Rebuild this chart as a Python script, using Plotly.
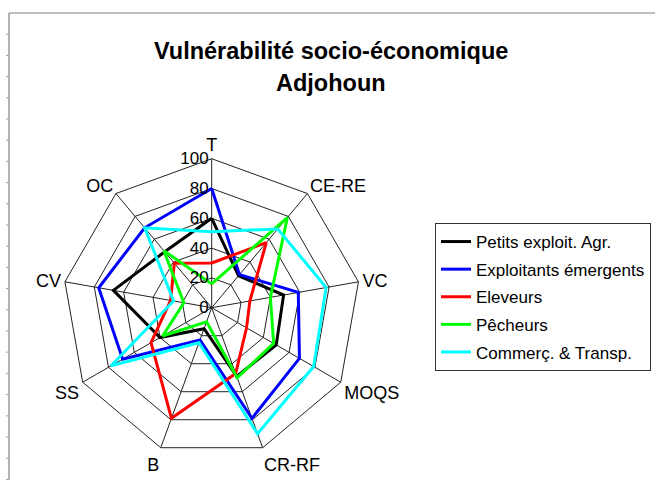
import plotly.graph_objects as go

categories = ["T", "CE-RE", "VC", "MOQS", "CR-RF", "B", "SS", "CV", "OC"]
radial_ticks = [0, 20, 40, 60, 80, 100]

series_names = ["Petits exploit. Agr.", "Exploitants émergents", "Eleveurs",
                "Pêcheurs", "Commerç. & Transp."]
petits = [60, 28, 49, 50, 49, 15, 40, 67, 49]
exploitants = [80, 29, 59, 68, 79, 23, 69, 77, 70]
eleveurs = [30, 57, 26, 27, 47, 79, 47, 28, 39]
pecheurs = [16, 79, 40, 48, 50, 10, 38, 19, 50]
commerce = [51, 69, 78, 79, 90, 25, 78, 26, 70]
colors = ["#000000", "#0000FF", "#FF0000", "#00FF00", "#00FFFF"]
title_lines = ["Vulnérabilité socio-économique", "Adjohoun"]

W, H = 655, 480
FONT = "Liberation Sans, Arial, sans-serif"

fig = go.Figure()
for i, (name, vals) in enumerate(zip(series_names,
                                      [petits, exploitants, eleveurs, pecheurs, commerce])):
    fig.add_trace(go.Scatterpolar(
        r=vals + vals[:1],
        theta=categories + categories[:1],
        mode="lines",
        name=name,
        legendgroup=str(i),
        line=dict(color=colors[i], width=3),
    ))

# polar domain in pixels
cx, cy, R = 211.7, 307.7, 149.0
dom_x = [(cx - R) / W, (cx + R) / W]
dom_y = [1 - (cy + R) / H, 1 - (cy - R) / H]

# Chart-area frame (left and top border) with small ruler ticks
shapes = [
    dict(type="line", xref="paper", yref="paper", x0=9 / W, x1=9 / W, y0=0, y1=1 - 13 / H,
         line=dict(color="#808080", width=1.2)),
    dict(type="line", xref="paper", yref="paper", x0=9 / W, x1=1, y0=1 - 13 / H, y1=1 - 13 / H,
         line=dict(color="#808080", width=1.2)),
]
for k in range(1, 23):
    yy = 13 + k * 21.2
    if yy > H:
        break
    shapes.append(dict(type="line", xref="paper", yref="paper", x0=6 / W, x1=9 / W,
                       y0=1 - yy / H, y1=1 - yy / H, line=dict(color="#a0a0a0", width=1)))

annotations = [
    dict(text="<b>%s</b>" % t, xref="paper", yref="paper",
         x=331 / W, y=1 - yc / H, xanchor="center", yanchor="middle",
         showarrow=False, font=dict(size=23.5, family=FONT, color="black"))
    for t, yc in zip(title_lines, [51, 83])
]

fig.update_layout(
    width=W, height=H,
    margin=dict(l=0, r=0, t=0, b=0),
    paper_bgcolor="white",
    plot_bgcolor="white",
    font=dict(family=FONT, color="black"),
    polar=dict(
        domain=dict(x=dom_x, y=dom_y),
        bgcolor="white",
        gridshape="linear",
        angularaxis=dict(
            rotation=90, direction="clockwise",
            categoryorder="array", categoryarray=categories,
            showline=True, linecolor="#222222", linewidth=1,
            showgrid=True, gridcolor="#222222", gridwidth=1,
            ticks="", tickfont=dict(size=18, family=FONT, color="black"),
        ),
        radialaxis=dict(
            range=[0, 100], tickvals=radial_ticks,
            angle=90, tickangle=90, side="counterclockwise",
            showline=False, showgrid=True, gridcolor="#222222", gridwidth=1,
            ticks="", tickfont=dict(size=17, family=FONT, color="black"),
        ),
    ),
    legend=dict(
        x=435 / W, y=1 - 223 / H, xanchor="left", yanchor="top",
        bgcolor="white", bordercolor="#333333", borderwidth=1,
        font=dict(size=17, family=FONT, color="black"),
        tracegroupgap=2.5,
    ),
    annotations=annotations,
    shapes=shapes,
)

fig.write_html(
    "out.html",
    config={"displayModeBar": False},
    post_script="document.body.style.margin='0px';document.body.style.overflow='hidden';",
)
